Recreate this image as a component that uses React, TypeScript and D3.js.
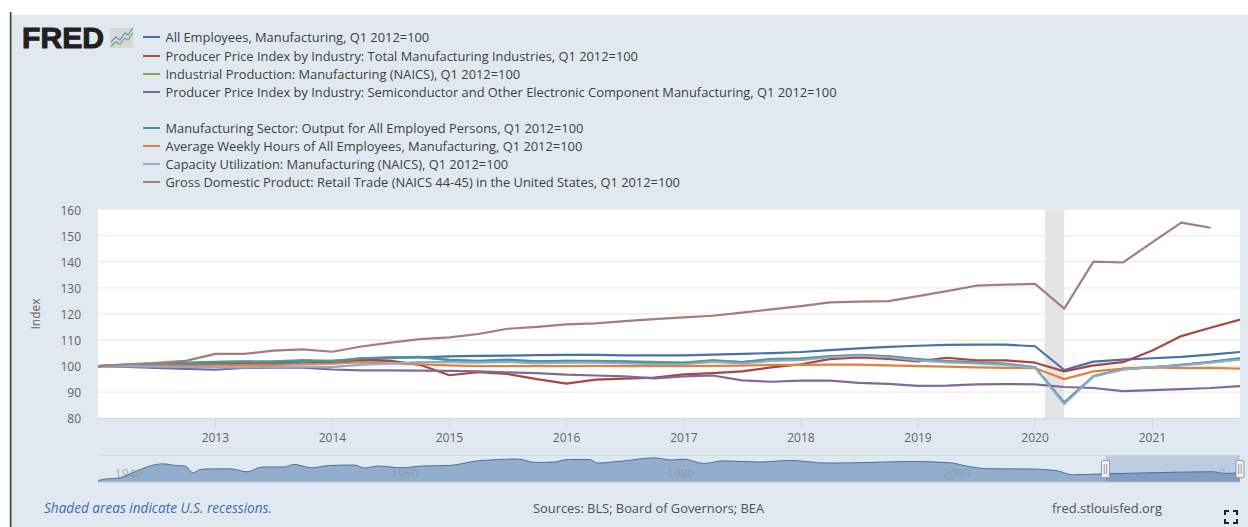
import React from "react";
import * as d3 from "d3";

// Quarterly observations, Q1 2012 through Q4 2021 (Q1 2012 = 100)
const employment = [100,100.3,100.4,100.7,101,101.2,101.3,101.7,102,102.5,103,103.4,103.7,103.9,104,104.2,104.3,104.3,104.1,104.1,104.1,104.4,104.7,105,105.4,106.1,106.8,107.4,107.8,108.1,108.2,108.2,107.6,98.5,101.7,102.5,103,103.5,104.4,105.4];
const ppiManufacturing = [100,100.2,100.4,100.8,101,100.7,100.9,101,101.5,102.3,102,100.5,96.5,97.7,97,95,93.3,94.8,95.2,95.6,96.8,97.3,98,99.5,100.7,102.7,103.3,102.8,101.8,103.2,102.2,102.2,101.3,98,100.3,101.5,106,111.5,114.7,117.8];
const industrialProduction = [100,100.5,100.8,101.2,101.5,101.6,101.8,102.3,102,103,103.3,103.3,102.3,101.8,102.2,101.8,102,102,101.8,101.6,101.3,102.3,101.5,102.8,103,103.8,104.3,103.8,102.6,102,101.5,101,99.5,86,96,99,99.5,100.5,101.5,103];
const ppiSemiconductor = [100,99.7,99.3,98.9,98.6,99.3,99.4,99.4,98.7,98.4,98.4,98.3,98.2,98,97.6,97.3,96.7,96.4,96.1,95.3,96.1,96.4,94.5,94,94.4,94.4,93.6,93.2,92.4,92.5,93,93.1,93,92,91.6,90.4,90.8,91.2,91.6,92.3];
const outputPerEmployed = [100,100.6,101,101.2,101.6,101.8,101.7,102,101.8,103,103.4,103.5,102.4,102,102.5,101.8,102,101.8,101.7,101.2,101.2,101.9,101.5,102.5,102.8,103.6,104.2,103.6,102.7,101.6,101.3,100.8,99.5,86,96.2,98.8,99.5,100.5,101.6,103];
const weeklyHours = [100,100,100,100.2,100.3,100.4,100.5,100.8,100.9,101.5,101,100.7,100.3,100,100,100,100,100.1,100,100,100,100.1,100.2,100.5,100.5,100.6,100.6,100.3,100,99.8,99.5,99.3,99.2,95,98,99,99.5,99.2,99.3,99];
const capacityUtilization = [100,100,99.8,99.7,99.5,99.5,99.6,99.8,99.6,100.6,101,101.5,101.5,101.3,101.6,101,101.3,101.3,101,100.7,100.7,101.6,101,102,102.3,103.4,104,103.4,102.2,101.4,101,100.5,99.3,85.5,96,98.6,99.6,100.3,101.3,102.5];
const retailGdp = [100,100.7,101.2,102,104.7,104.7,105.9,106.4,105.5,107.5,109,110.3,111,112.3,114.3,115,116,116.4,117.2,118,118.7,119.3,120.5,121.7,123,124.4,124.7,124.9,126.8,128.7,130.8,131.2,131.5,122,140,139.7,147.5,155,153];

const seriesNames = [
  "All Employees, Manufacturing, Q1 2012=100",
  "Producer Price Index by Industry: Total Manufacturing Industries, Q1 2012=100",
  "Industrial Production: Manufacturing (NAICS), Q1 2012=100",
  "Producer Price Index by Industry: Semiconductor and Other Electronic Component Manufacturing, Q1 2012=100",
  "Manufacturing Sector: Output for All Employed Persons, Q1 2012=100",
  "Average Weekly Hours of All Employees, Manufacturing, Q1 2012=100",
  "Capacity Utilization: Manufacturing (NAICS), Q1 2012=100",
  "Gross Domestic Product: Retail Trade (NAICS 44-45) in the United States, Q1 2012=100",
];
const seriesValues = [employment, ppiManufacturing, industrialProduction, ppiSemiconductor, outputPerEmployed, weeklyHours, capacityUtilization, retailGdp];
const seriesColors = ["#4572a7", "#aa4643", "#89a54e", "#80699b", "#3d96ae", "#db843d", "#92a8cd", "#a47d7c"];
const legendRows = [37, 56, 74, 92, 128, 146, 164, 182];

const yTicks = [80, 90, 100, 110, 120, 130, 140, 150, 160];
const xTickYears = [2013, 2014, 2015, 2016, 2017, 2018, 2019, 2020, 2021];
const recession = [new Date(2020, 1, 1), new Date(2020, 3, 1)];

// Long-run overview: year and level pairs
const overviewYears = [1939,1939.7,1940.4,1941.4,1942.9,1943.7,1944.6,1945.3,1945.9,1946.3,1946.9,1948.6,1949.8,1950.9,1952.5,1953.2,1954.5,1955.8,1957.6,1958.3,1959.3,1961,1962.5,1964.5,1966.5,1969.4,1970.7,1972,1973.1,1974.6,1975.2,1977.1,1979.3,1980.6,1981.4,1982.9,1984.3,1986.9,1989.2,1991.8,1995,1997.9,2000.8,2001.9,2003.6,2006.5,2008.5,2009.6,2011.7,2014.6,2019.8,2020.6,2021.75];
const overviewLevels = [8,18,20,45,85,93,85,82,48,62,67,68,53,77,77,90,73,85,87,72,82,73,82,85,108,117,100,102,115,115,97,108,123,112,117,95,108,102,110,97,100,105,98,82,68,67,58,38,42,47,53,45,47];
const overviewTicks = [1940, 1960, 1980, 2000];

const FONT = "'Open Sans', 'Noto Sans', sans-serif";

export default function App() {
  const left = 98, right = 1240, top = 209.5, bottom = 418.3;
  const x = d3.scaleTime().domain([new Date(2012, 0, 1), new Date(2021, 9, 1)]).range([left, right]);
  const y = d3.scaleLinear().domain([80, 160]).range([bottom, top]);
  const quarterDate = (i: number) => new Date(2012 + Math.floor(i / 4), (i % 4) * 3, 1);
  const line = d3.line<number>().x((_, i) => x(quarterDate(i))).y((v) => y(v));

  const navTop = 455.5, navBottom = 482.3;
  const nx = d3.scaleLinear().domain([1939, 2021.75]).range([left, right]);
  const ny = d3.scaleLinear().domain([0, 135]).range([navBottom, navTop]);
  const navPts = overviewYears.map((yr, i) => [yr, overviewLevels[i]] as [number, number]);
  const navArea = d3.area<[number, number]>().x((d) => nx(d[0])).y0(navBottom).y1((d) => ny(d[1])).curve(d3.curveMonotoneX);
  const navLine = d3.line<[number, number]>().x((d) => nx(d[0])).y((d) => ny(d[1])).curve(d3.curveMonotoneX);
  const selStart = nx(2012);

  const axisText = { fontFamily: FONT, fontSize: 12, fill: "#5f6468" };

  return (
    <svg width={1248} height={527} style={{ position: "absolute", left: 0, top: 0 }}>
      <rect width={1248} height={527} fill="#ffffff" />
      <rect x={11} y={15} width={1237} height={512} fill="#e1e9f0" />
      <rect x={9.8} y={12} width={1.6} height={515} fill="#3a3d40" />

      {/* Logo */}
      <text x={22} y={47.5} fontFamily="'Liberation Sans', Arial, sans-serif" fontWeight={700} fontSize={29} fill="#231f20" stroke="#231f20" strokeWidth={1} textLength={82} lengthAdjust="spacingAndGlyphs">FRED</text>
      <rect x={110} y={28} width={23} height={20} rx={1} fill="#d3d8d8" />
      <path d="M111,42 L116,37 L120,40 L125,33 L128,35 L133,28" fill="none" stroke="#5f8db3" strokeWidth={1.1} />
      <path d="M111,46 L116,42 L120,44 L125,38 L128,40 L133,33" fill="none" stroke="#7ea25e" strokeWidth={1.1} />

      {/* Legend */}
      {seriesNames.map((name, i) => (
        <g key={name}>
          <line x1={143} x2={160} y1={legendRows[i]} y2={legendRows[i]} stroke={seriesColors[i]} strokeWidth={2} />
          <text x={165.5} y={legendRows[i] + 4.5} fontFamily={FONT} fontSize={12.86} fill="#3c3f42">{name}</text>
        </g>
      ))}

      {/* Plot area */}
      <rect x={left} y={top} width={right - left} height={bottom - top} fill="#ffffff" />
      {yTicks.map((t) => (
        <g key={t}>
          {t > 80 && t < 160 && <line x1={left} x2={right} y1={y(t)} y2={y(t)} stroke="#ebebeb" strokeWidth={1.3} />}
          <text x={81} y={y(t) + 5} textAnchor="end" {...axisText}>{t}</text>
        </g>
      ))}
      <rect x={x(recession[0])} y={top} width={x(recession[1]) - x(recession[0])} height={bottom - top} fill="#e4e4e4" />
      <line x1={left} x2={right} y1={bottom} y2={bottom} stroke="#ccd6eb" strokeWidth={1} />
      {xTickYears.map((yr) => {
        const px = x(new Date(yr, 0, 1));
        return (
          <g key={yr}>
            <line x1={px} x2={px} y1={bottom} y2={bottom + 10} stroke="#ccd6eb" strokeWidth={1} />
            <text x={px} y={441.5} textAnchor="middle" {...axisText}>{yr}</text>
          </g>
        );
      })}
      <text transform="translate(40,314) rotate(-90)" textAnchor="middle" {...axisText}>Index</text>

      {seriesValues.map((vals, i) => (
        <path key={seriesNames[i]} d={line(vals) ?? ""} fill="none" stroke={seriesColors[i]} strokeWidth={2.2} strokeLinejoin="round" />
      ))}

      {/* Overview strip */}
      <line x1={left} x2={right} y1={navTop} y2={navTop} stroke="#d3d8dc" strokeWidth={1} />
      <rect x={selStart} y={navTop} width={right - selStart} height={navBottom - navTop} fill="#6685c2" fillOpacity={0.3} />
      <path d={navArea(navPts) ?? ""} fill="#4572a7" fillOpacity={0.5} />
      <path d={navLine(navPts) ?? ""} fill="none" stroke="#4572a7" strokeWidth={1} />
      <line x1={left} x2={right} y1={navBottom} y2={navBottom} stroke="#ccd6eb" strokeWidth={1} />
      {overviewTicks.map((yr) => (
        <text key={yr} x={nx(yr) + 3} y={478} fontFamily={FONT} fontSize={12} fill="#8e9396" fillOpacity={0.7}>{yr}</text>
      ))}
      <text x={nx(2020) + 3} y={478} fontFamily={FONT} fontSize={12} fill="#8e9396" fillOpacity={0.7}>2...</text>
      {[selStart, right].map((hx) => (
        <g key={hx}>
          <rect x={hx - 4} y={460.5} width={8} height={17} rx={1} fill="#f2f2f2" stroke="#999999" strokeWidth={1} />
          <line x1={hx - 1.2} x2={hx - 1.2} y1={464} y2={474} stroke="#999999" strokeWidth={1} />
          <line x1={hx + 1.2} x2={hx + 1.2} y1={464} y2={474} stroke="#999999" strokeWidth={1} />
        </g>
      ))}

      {/* Footer */}
      <text x={44} y={512.5} fontFamily={FONT} fontSize={13.6} fontStyle="italic" fill="#3e6ab0">Shaded areas indicate U.S. recessions.</text>
      <text x={533} y={512.5} fontFamily={FONT} fontSize={12.85} fill="#4e5256">Sources: BLS; Board of Governors; BEA</text>
      <text x={1052} y={512.5} fontFamily={FONT} fontSize={12.9} fill="#4e5256">fred.stlouisfed.org</text>
      <path d="M1225,515 v-4 h4 M1233,511 h4 v4 M1237,519 v4 h-4 M1229,523 h-4 v-4" fill="none" stroke="#1f2326" strokeWidth={2} />
    </svg>
  );
}
